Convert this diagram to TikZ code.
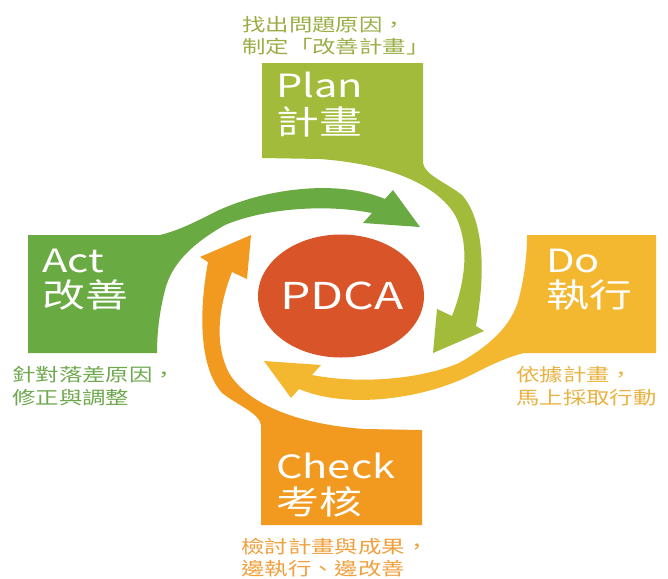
\documentclass[tikz,border=0pt]{standalone}
\usepackage{fontspec}
\usetikzlibrary{shapes.geometric}
\setmainfont{Noto Sans CJK TC}
\definecolor{planc}{HTML}{A3BB3A}
\definecolor{actc}{HTML}{6AAA42}
\definecolor{doc}{HTML}{F3B730}
\definecolor{checkc}{HTML}{F29A20}
\definecolor{pdcac}{HTML}{D95428}
\definecolor{plantx}{HTML}{9AAE45}
\definecolor{acttx}{HTML}{6FA84E}
\definecolor{dotx}{HTML}{E9B241}
\definecolor{checktx}{HTML}{F0A03C}
\newcommand\hs[1]{\scalebox{1.3}[1]{#1}}
\newcommand\planshape{(262,63) -- (423,63) -- (423,163)
  .. controls (425,175) and (445,182) .. (462,195)
  .. controls (480,215) and (488,260) .. (476,326)
  -- (484,331) -- (433,353) -- (437,309) -- (452,316)
  .. controls (468,275) and (468,240) .. (455,215)
  .. controls (440,190) and (400,165) .. (320,159)
  -- (262,158) -- cycle}
\newcommand\actshape{(28,235) -- (160,235)
  .. controls (180,230) and (195,222) .. (215,212)
  .. controls (260,190) and (335,178) .. (385,199)
  -- (393,190) -- (420,227) -- (363,223) -- (372,213)
  .. controls (320,203) and (260,210) .. (225,225)
  .. controls (195,242) and (172,262) .. (165,290)
  .. controls (160,310) and (157,330) .. (157,353)
  -- (28,353) -- cycle}
\begin{document}
\begin{tikzpicture}[x=1pt,y=-1pt,
  lab/.style={text=white, inner sep=0pt, anchor=west, font=\fontsize{32}{32}\selectfont},
  cjklab/.style={text=white, inner sep=0pt, anchor=west, font=\fontsize{33}{33}\selectfont},
  captxt/.style={inner sep=0pt, anchor=west, font=\fontsize{18}{18}\selectfont},
  flip/.style={rotate around={180:(342,294)}}]
\useasboundingbox[fill=white] (0,0) rectangle (668,578);
% shapes
\fill[planc] \planshape;
\fill[actc] \actshape;
\fill[checkc, flip] \planshape;
\fill[doc, flip] \actshape;
\node[ellipse, fill=pdcac, minimum width=166pt, minimum height=123pt, inner sep=0pt] (pdca) at (341,296) {};
\node[text=white, inner sep=0pt, font=\fontsize{37}{37}\selectfont] (pdcatxt) at (342,296) {\hs{PDCA}};
% box labels
\node[lab] (plan) at (276,85) {\hs{Plan}};
\node[cjklab] (planz) at (276,122) {\hs{計畫}};
\node[lab] (act) at (42,261) {\hs{Act}};
\node[cjklab] (actz) at (42,295) {\hs{改善}};
\node[lab] (do) at (546,261) {\hs{Do}};
\node[cjklab] (doz) at (546,295) {\hs{執行}};
\node[lab] (check) at (276,466) {\hs{Check}};
\node[cjklab] (checkz) at (276,502) {\hs{考核}};
% captions
\node[captxt, text=plantx] (pc1) at (242,25) {\hs{找出問題原因，}};
\node[captxt, text=plantx] (pc2) at (242,47) {\hs{制定「改善計畫」}};
\node[captxt, text=acttx] (ac1) at (12,375) {\hs{針對落差原因，}};
\node[captxt, text=acttx] (ac2) at (12,398) {\hs{修正與調整}};
\node[captxt, text=dotx] (dc1) at (516,375) {\hs{依據計畫，}};
\node[captxt, text=dotx] (dc2) at (516,398) {\hs{馬上採取行動}};
\node[captxt, text=checktx] (cc1) at (241,547) {\hs{檢討計畫與成果，}};
\node[captxt, text=checktx] (cc2) at (241,569) {\hs{邊執行、邊改善}};
\end{tikzpicture}
\end{document}
